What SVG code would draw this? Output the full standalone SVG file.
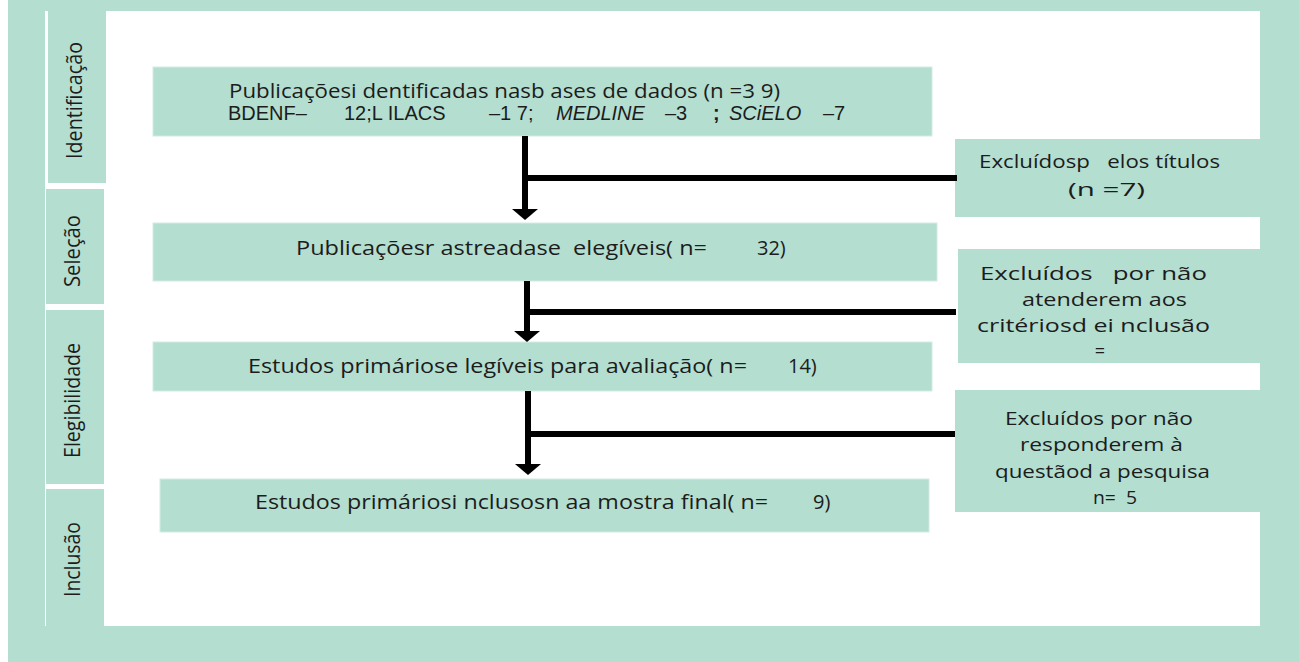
<svg xmlns="http://www.w3.org/2000/svg" width="1299" height="662" viewBox="0 0 1299 662">
<defs>
<style>
.teal{fill:#b3ded0}
.box{fill:#b3ded0;stroke:#d3ece3;stroke-width:1}
.lbl{font-family:"Open Sans","Noto Sans",sans-serif;font-size:21px;fill:#1c1c1c}
.t{font-family:"Open Sans","Noto Sans",sans-serif;font-size:20px;fill:#1c1c1c}
.a{font-family:"Liberation Sans",Arial,sans-serif;font-size:20px;fill:#1c1c1c}
.ex{font-family:"Open Sans","Noto Sans",sans-serif;font-size:18px;fill:#1c1c1c;text-anchor:middle}
.ln{stroke:#000;stroke-width:6;fill:none}
</style>
<marker id="head" markerUnits="userSpaceOnUse" markerWidth="12" markerHeight="28" refX="0" refY="13" orient="auto" overflow="visible">
<path d="M0,0 L11,13 L0,26 Z" fill="#000"/>
</marker>
</defs>
<rect x="0" y="0" width="1299" height="662" fill="#fff"/>
<rect class="teal" x="8" y="0" width="1291" height="662"/>
<rect x="45" y="11" width="1215" height="615" fill="#fff"/>

<g id="stage-identificacao">
<rect class="teal" x="48" y="11" width="58" height="172"/>
<text class="lbl" transform="translate(82,159) rotate(-90)" textLength="117" lengthAdjust="spacingAndGlyphs">Identificação</text>
</g>
<g id="stage-selecao">
<rect class="teal" x="46" y="189" width="58" height="115"/>
<text class="lbl" transform="translate(80,287) rotate(-90)" textLength="72" lengthAdjust="spacingAndGlyphs">Seleção</text>
</g>
<g id="stage-elegibilidade">
<rect class="teal" x="46" y="310" width="58" height="174"/>
<text class="lbl" transform="translate(80,458) rotate(-90)" textLength="115" lengthAdjust="spacingAndGlyphs">Elegibilidade</text>
</g>
<g id="stage-inclusao">
<rect class="teal" x="46" y="489" width="58" height="137"/>
<text class="lbl" transform="translate(80,597) rotate(-90)" textLength="75" lengthAdjust="spacingAndGlyphs">Inclusão</text>
</g>

<g id="box-identificadas">
<rect class="box" x="153" y="67" width="779" height="69"/>
<text class="t" x="229" y="98" textLength="551" lengthAdjust="spacingAndGlyphs">Publicaçõesi dentificadas nasb ases de dados (n =3 9)</text>
<text class="a" y="120"><tspan x="228">BDENF–</tspan><tspan x="344">12;L ILACS</tspan><tspan x="489">–1 7;</tspan><tspan x="556" font-style="italic">MEDLINE</tspan><tspan x="665">–3</tspan><tspan x="713" font-weight="bold">;</tspan><tspan x="729" font-style="italic">SCiELO</tspan><tspan x="823">–7</tspan></text>
</g>

<g id="box-rastreadas">
<rect class="box" x="153" y="223" width="784" height="58"/>
<text class="t" x="296" y="255" textLength="411" lengthAdjust="spacingAndGlyphs" xml:space="preserve">Publicaçõesr astreadase  elegíveis( n=</text>
<text class="t" x="757" y="255">32)</text>
</g>

<g id="box-elegiveis">
<rect class="box" x="153" y="342" width="779" height="49"/>
<text class="t" x="248" y="373" textLength="499" lengthAdjust="spacingAndGlyphs">Estudos primáriose legíveis para avaliação( n=</text>
<text class="t" x="788" y="373">14)</text>
</g>

<g id="box-inclusos">
<rect class="box" x="160" y="479" width="769" height="53"/>
<text class="t" x="255" y="509" textLength="513" lengthAdjust="spacingAndGlyphs">Estudos primáriosi nclusosn aa mostra final( n=</text>
<text class="t" x="813" y="509">9)</text>
</g>

<g id="excl-titulos">
<rect class="teal" x="955" y="139" width="305" height="78"/>
<text class="ex" x="1099.5" y="168" textLength="241" lengthAdjust="spacingAndGlyphs" xml:space="preserve">Excluídosp   elos títulos</text>
<text class="ex" x="1106.5" y="196" textLength="77" lengthAdjust="spacingAndGlyphs">(n =7)</text>
</g>

<g id="excl-criterios">
<rect class="teal" x="958" y="249" width="302" height="114"/>
<text class="ex" x="1093.5" y="280" textLength="227" lengthAdjust="spacingAndGlyphs" xml:space="preserve">Excluídos   por não</text>
<text class="ex" x="1104.5" y="306" textLength="165" lengthAdjust="spacingAndGlyphs">atenderem aos</text>
<text class="ex" x="1093.5" y="332" textLength="233" lengthAdjust="spacingAndGlyphs">critériosd ei nclusão</text>
<text class="ex" x="1100" y="357">=</text>
</g>

<g id="excl-pergunta">
<rect class="teal" x="955" y="390" width="305" height="122"/>
<text class="ex" x="1099" y="425" textLength="188" lengthAdjust="spacingAndGlyphs">Excluídos por não</text>
<text class="ex" x="1101.5" y="451" textLength="163" lengthAdjust="spacingAndGlyphs">responderem à</text>
<text class="ex" x="1102.5" y="478" textLength="215" lengthAdjust="spacingAndGlyphs">questãod a pesquisa</text>
<text class="ex" x="1115" y="504" textLength="44" lengthAdjust="spacingAndGlyphs" xml:space="preserve">n=  5</text>
</g>

<g id="connectors">
<path class="ln" d="M525,136 V209" marker-end="url(#head)"/>
<path class="ln" d="M525,178 H957"/>
<path class="ln" d="M527,281 V331" marker-end="url(#head)"/>
<path class="ln" d="M527,312 H956"/>
<path class="ln" d="M528,391 V464" marker-end="url(#head)"/>
<path class="ln" d="M528,434 H955"/>
</g>
</svg>
